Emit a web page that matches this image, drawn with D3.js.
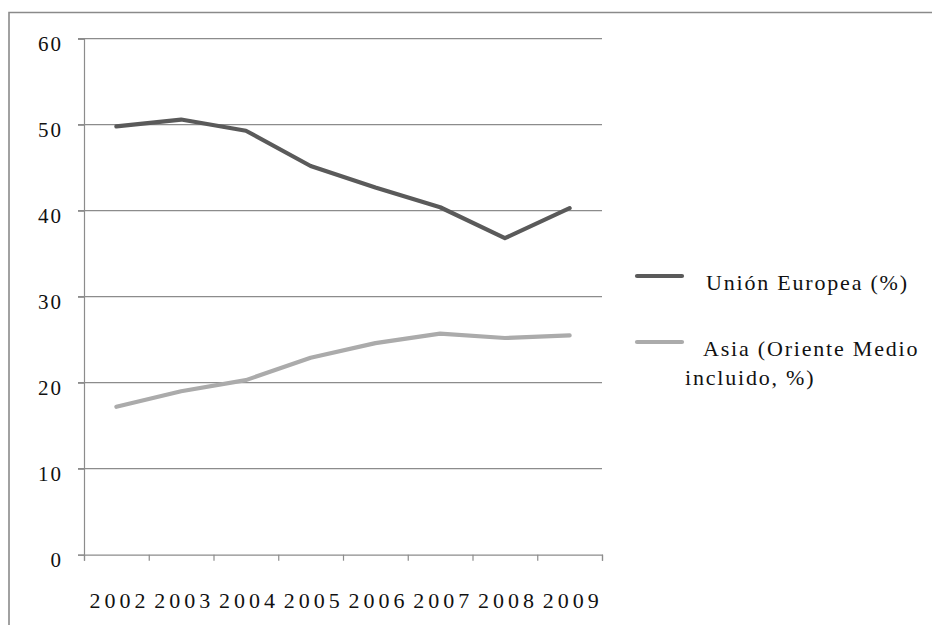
<!DOCTYPE html>
<html>
<head>
<meta charset="utf-8">
<script src="https://cdn.jsdelivr.net/npm/d3@7"></script>
<style>
  html, body { margin: 0; padding: 0; background: #fff; }
  svg { display: block; }
  text { font-family: "Liberation Serif", "DejaVu Serif", serif; fill: #111; }
</style>
</head>
<body>
<svg id="chart" width="932" height="625"></svg>
<script>
const years = ["2002", "2003", "2004", "2005", "2006", "2007", "2008", "2009"];
const euValues = [49.8, 50.6, 49.3, 45.2, 42.7, 40.4, 36.8, 40.3];
const asiaValues = [17.2, 19.0, 20.3, 22.9, 24.6, 25.7, 25.2, 25.5];
const yTicks = [0, 10, 20, 30, 40, 50, 60];
const seriesNames = ["Unión Europea (%)", ["Asia (Oriente Medio", "incluido, %)"]];

const svg = d3.select("#chart");
const W = 932, H = 625;
const plot = { left: 84, right: 602, top: 38.7, bottom: 554.7 };

// outer frame
svg.append("path")
  .attr("d", `M9,${H} L9,12.5 L${W},12.5`)
  .attr("fill", "none").attr("stroke", "#8a8a8a").attr("stroke-width", 1.6);

const x = d3.scaleBand().domain(years).range([plot.left, plot.right]).padding(0);
const xEdge = d3.scaleLinear().domain([0, years.length]).range([plot.left, plot.right]);
const y = d3.scaleLinear().domain([0, 60]).range([plot.bottom, plot.top]);

const gridColor = "#8c8c8c";

// gridlines
svg.append("g").selectAll("line").data(yTicks.filter(d => d > 0)).join("line")
  .attr("x1", plot.left - 6).attr("x2", plot.right)
  .attr("y1", d => y(d)).attr("y2", d => y(d))
  .attr("stroke", gridColor).attr("stroke-width", 1.2);

// y axis
const yAxis = svg.append("g").attr("transform", `translate(${plot.left},0)`)
  .call(d3.axisLeft(y).tickValues(yTicks).tickSize(6).tickPadding(15).tickFormat(d3.format("d")));
yAxis.select(".domain").attr("stroke", gridColor).attr("stroke-width", 1.2);
yAxis.selectAll(".tick line").attr("stroke", gridColor).attr("stroke-width", 1.2);
yAxis.selectAll(".tick text")
  .attr("font-size", 21).attr("letter-spacing", 2)
  .attr("font-family", "Liberation Serif").attr("fill", "#111")
  .attr("dy", "0.58em");

// x axis ticks at category boundaries
const xTickAxis = svg.append("g").attr("transform", `translate(0,${plot.bottom})`)
  .call(d3.axisBottom(xEdge).tickValues(d3.range(years.length + 1)).tickSize(6).tickFormat(""));
xTickAxis.select(".domain").attr("stroke", gridColor).attr("stroke-width", 1.2);
xTickAxis.selectAll(".tick line").attr("stroke", gridColor).attr("stroke-width", 1.2);

// x labels
const xLabelAxis = svg.append("g").attr("transform", `translate(0,${plot.bottom})`)
  .call(d3.axisBottom(x).tickSize(0).tickPadding(0));
xLabelAxis.select(".domain").remove();
xLabelAxis.selectAll(".tick text")
  .attr("font-size", 22).attr("letter-spacing", 4)
  .attr("font-family", "Liberation Serif").attr("fill", "#111")
  .attr("y", 53).attr("dy", 0).attr("dx", 3);

// lines
const line = d3.line().x((d, i) => x(years[i]) + x.bandwidth() / 2).y(d => y(d));
svg.append("path").datum(asiaValues).attr("d", line)
  .attr("fill", "none").attr("stroke", "#ababab").attr("stroke-width", 4.2)
  .attr("stroke-linejoin", "round").attr("stroke-linecap", "round");
svg.append("path").datum(euValues).attr("d", line)
  .attr("fill", "none").attr("stroke", "#5a5a5a").attr("stroke-width", 4.2)
  .attr("stroke-linejoin", "round").attr("stroke-linecap", "round");

// legend
const leg = svg.append("g");
leg.append("line").attr("x1", 637).attr("x2", 682).attr("y1", 276).attr("y2", 276)
  .attr("stroke", "#5a5a5a").attr("stroke-width", 4.2).attr("stroke-linecap", "round");
leg.append("text").attr("x", 706).attr("y", 290).attr("font-size", 22).attr("letter-spacing", 1.8)
  .text(seriesNames[0]);
leg.append("line").attr("x1", 637).attr("x2", 682).attr("y1", 342).attr("y2", 342)
  .attr("stroke", "#ababab").attr("stroke-width", 4.2).attr("stroke-linecap", "round");
leg.append("text").attr("x", 703).attr("y", 356).attr("font-size", 22).attr("letter-spacing", 1.8)
  .text(seriesNames[1][0]);
leg.append("text").attr("x", 685).attr("y", 385).attr("font-size", 22).attr("letter-spacing", 1.8)
  .text(seriesNames[1][1]);
</script>
</body>
</html>
